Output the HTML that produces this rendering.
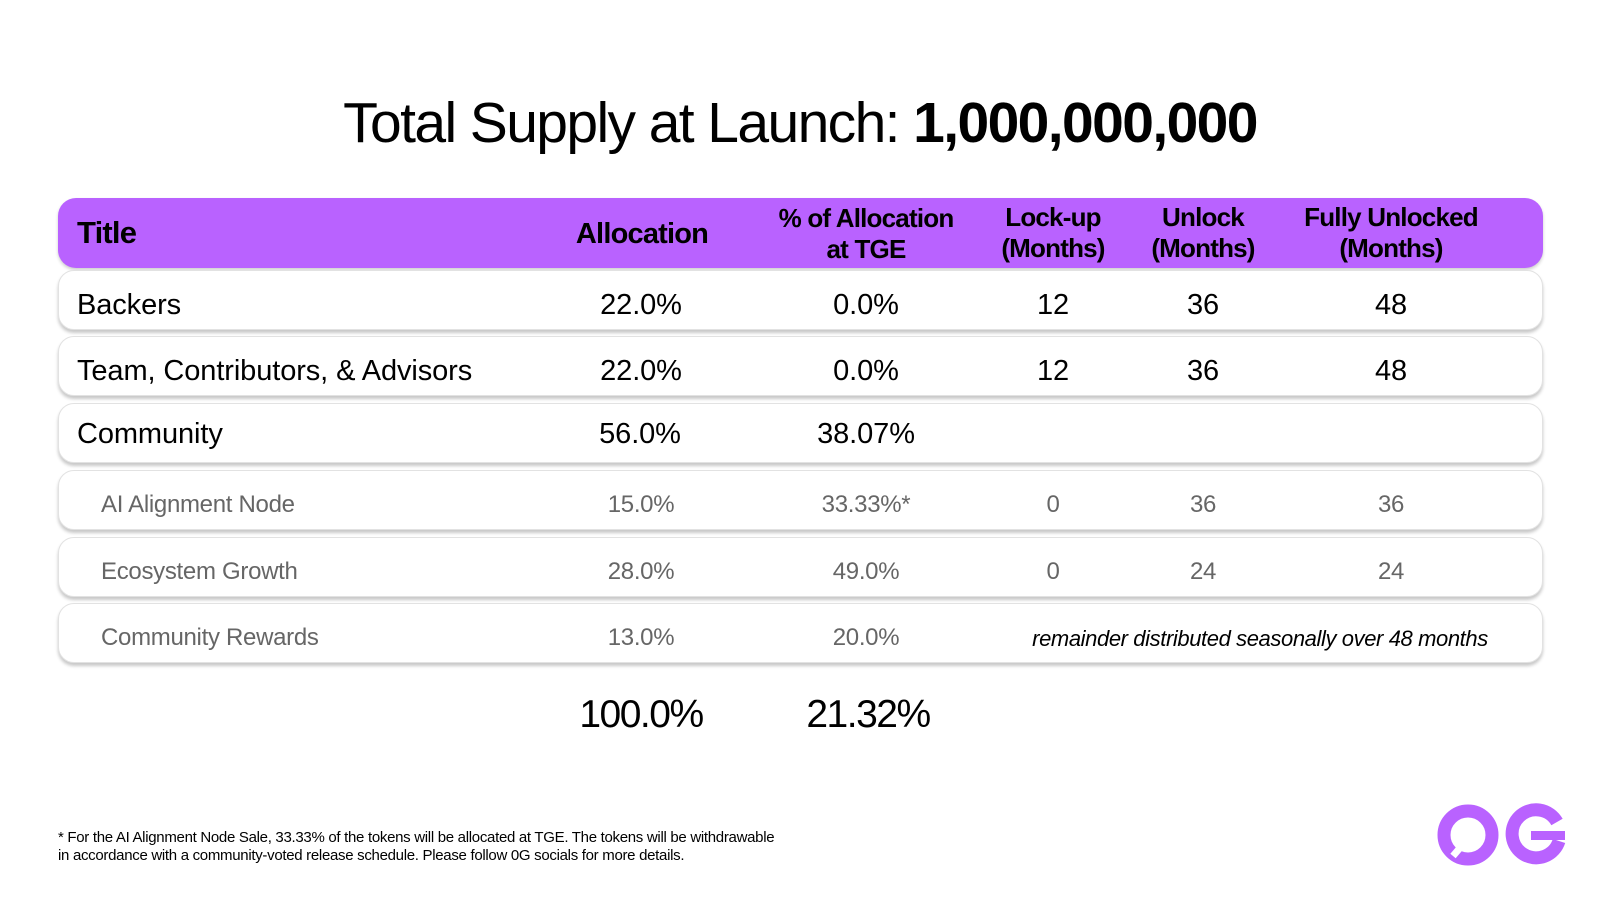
<!DOCTYPE html>
<html><head><meta charset="utf-8"><style>
*{margin:0;padding:0;box-sizing:border-box}
body{width:1600px;height:900px;background:#fff;font-family:"Liberation Sans",Arial,sans-serif;position:relative;overflow:hidden;color:#000}
.t{position:absolute;white-space:nowrap}
.c{transform:translateX(-50%);text-align:center}
.row{position:absolute;left:58px;width:1485px;height:60px;border-radius:16px;background:#fff;border:1px solid #e2e2e2;box-shadow:0 3px 3px rgba(0,0,0,0.22)}
.hd{position:absolute;left:58px;top:198px;width:1485px;height:70px;border-radius:18px;background:#b962ff;box-shadow:0 2px 3px rgba(0,0,0,0.2)}
.m{font-size:29px;letter-spacing:-0.1px}
.s{font-size:24px;color:#666;letter-spacing:-0.3px}
.h{font-size:26px;font-weight:bold;letter-spacing:-0.8px;line-height:31px}
</style></head><body>
<div class="t" style="left:800px;top:90px;font-size:57px;letter-spacing:-1.6px;transform:translateX(-50%)">Total Supply at Launch: <b>1,000,000,000</b></div>

<div class="hd"></div>
<div class="t h" style="left:77px;top:217px;font-size:31px">Title</div>
<div class="t h c" style="left:642px;top:219px;font-size:29px">Allocation</div>
<div class="t h c" style="left:866px;top:203px">% of Allocation<br>at TGE</div>
<div class="t h c" style="left:1053px;top:202px">Lock-up<br>(Months)</div>
<div class="t h c" style="left:1203px;top:202px">Unlock<br>(Months)</div>
<div class="t h c" style="left:1391px;top:202px">Fully Unlocked<br>(Months)</div>

<div class="row" style="top:270px"></div>
<div class="row" style="top:336px"></div>
<div class="row" style="top:403px"></div>
<div class="row" style="top:470px"></div>
<div class="row" style="top:537px"></div>
<div class="row" style="top:603px"></div>

<div class="t m" style="left:77px;top:289px">Backers</div>
<div class="t m c" style="left:641px;top:289px">22.0%</div>
<div class="t m c" style="left:866px;top:289px">0.0%</div>
<div class="t m c" style="left:1053px;top:289px">12</div>
<div class="t m c" style="left:1203px;top:289px">36</div>
<div class="t m c" style="left:1391px;top:289px">48</div>

<div class="t m" style="left:77px;top:355px">Team, Contributors, &amp; Advisors</div>
<div class="t m c" style="left:641px;top:355px">22.0%</div>
<div class="t m c" style="left:866px;top:355px">0.0%</div>
<div class="t m c" style="left:1053px;top:355px">12</div>
<div class="t m c" style="left:1203px;top:355px">36</div>
<div class="t m c" style="left:1391px;top:355px">48</div>

<div class="t m" style="left:77px;top:418px">Community</div>
<div class="t m c" style="left:640px;top:418px">56.0%</div>
<div class="t m c" style="left:866px;top:418px">38.07%</div>

<div class="t s" style="left:101px;top:491px">AI Alignment Node</div>
<div class="t s c" style="left:641px;top:491px">15.0%</div>
<div class="t s c" style="left:866px;top:491px">33.33%*</div>
<div class="t s c" style="left:1053px;top:491px">0</div>
<div class="t s c" style="left:1203px;top:491px">36</div>
<div class="t s c" style="left:1391px;top:491px">36</div>

<div class="t s" style="left:101px;top:558px">Ecosystem Growth</div>
<div class="t s c" style="left:641px;top:558px">28.0%</div>
<div class="t s c" style="left:866px;top:558px">49.0%</div>
<div class="t s c" style="left:1053px;top:558px">0</div>
<div class="t s c" style="left:1203px;top:558px">24</div>
<div class="t s c" style="left:1391px;top:558px">24</div>

<div class="t s" style="left:101px;top:624px">Community Rewards</div>
<div class="t s c" style="left:641px;top:624px">13.0%</div>
<div class="t s c" style="left:866px;top:624px">20.0%</div>
<div class="t c" style="left:1260px;top:626px;font-size:22px;font-style:italic;color:#000;letter-spacing:-0.4px">remainder distributed seasonally over 48 months</div>

<div class="t c" style="left:641px;top:693px;font-size:39px;letter-spacing:-1.5px">100.0%</div>
<div class="t c" style="left:868px;top:693px;font-size:39px;letter-spacing:-1.5px">21.32%</div>

<div class="t" style="left:58px;top:829px;font-size:15px;letter-spacing:-0.3px;line-height:18px">* For the AI Alignment Node Sale, 33.33% of the tokens will be allocated at TGE. The tokens will be withdrawable<br>in accordance with a community-voted release schedule. Please follow 0G socials for more details.</div>

<svg style="position:absolute;left:1430px;top:798px" width="170" height="75" viewBox="0 0 170 75">
<circle cx="38" cy="37" r="24" fill="none" stroke="#b962ff" stroke-width="13"/>
<line x1="23" y1="58" x2="47" y2="30" stroke="#fff" stroke-width="7"/>
<path d="M127 24 A24 24 0 1 0 129 43" fill="none" stroke="#b962ff" stroke-width="13"/>
<rect x="101" y="33" width="34" height="9" fill="#b962ff"/>
</svg>
</body></html>
